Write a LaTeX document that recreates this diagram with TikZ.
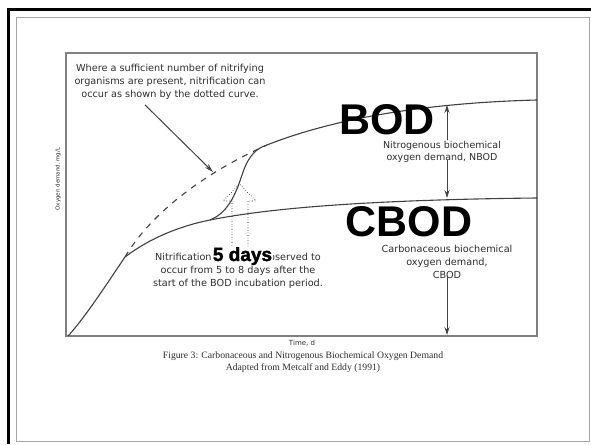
\documentclass[tikz,border=0pt]{standalone}
\usepackage{fontspec}
\setmainfont{DejaVu Sans}
\newfontfamily\capfont{Liberation Serif}
\newfontfamily\bigfont{Liberation Sans}
\newfontfamily\heavyfont[FakeBold=2]{Liberation Sans Bold}
\usetikzlibrary{arrows.meta,positioning}
\definecolor{plotGray}{RGB}{64,64,64}
\definecolor{boxGray}{RGB}{128,128,128}
\definecolor{txtGray}{RGB}{45,45,45}
\tikzset{
    curve/.style      = {draw=plotGray, line width=1.1pt},
    nitDash/.style    = {curve, dash pattern=on 6pt off 6pt},
    pointer/.style    = {-{Stealth[length=9pt,width=5pt]}, draw=plotGray, line width=1pt},
    demand/.style     = {-{Stealth[length=8pt,width=5pt]}, draw=plotGray, line width=0.8pt},
    note/.style       = {text=txtGray, align=center, inner sep=1pt,
            font=\fontsize{9.7}{13}\selectfont},
    bigLbl/.style     = {inner sep=0pt, font=\bigfont\bfseries\fontsize{43}{43}\selectfont},
    blockArrow/.style = {draw=black, dotted, line width=0.6pt},
}
\begin{document}
\begin{tikzpicture}[x=1pt,y=-1pt]
    \useasboundingbox (0,0) rectangle (591,444);
    % page frame
    \draw[black, line width=3pt] (8,444) -- (8,10) -- (591,10);
    \draw[gray!70, line width=0.8pt] (16,17) rectangle (589,441);
    % plot box
    \draw[boxGray, line width=1.3pt] (66,53) rectangle (537,336);

    % points on the curves
    \coordinate (orig)   at (68,336);
    \coordinate (kink)   at (125,257);
    \coordinate (nitSt)  at (210,220);
    \coordinate (merge)  at (267,145);
    \coordinate (dashPt) at (213,172);
    \coordinate (bodPt)  at (447,105);
    \coordinate (cbodPt) at (447,198);
    \coordinate (axisPt) at (447,335);

    % CBOD curve
    \draw[curve] (orig) .. controls (85,318) and (112,276) .. (kink)
        .. controls (150,238) and (180,226) .. (nitSt)
        .. controls (260,210) and (350,200) .. (537,198);
    % dotted (dashed) nitrification curve
    \draw[nitDash] (kink) .. controls (150,215) and (200,175) .. (merge);
    % nitrification and BOD curve
    \draw[curve] (nitSt) .. controls (230,212) and (237,190) .. (243,172)
        .. controls (249,155) and (257,148) .. (merge)
        .. controls (330,120) and (420,103) .. (537,100);

    % hollow arrow
    \draw[blockArrow] (232,248) -- (232,201) -- (223,201) -- (239.5,184)
        -- (256,201) -- (248,201) -- (248,248);

    % axis labels
    \node[text=txtGray, rotate=90, font=\fontsize{5.5}{6}\selectfont] (yLbl) at (58,179) {Oxygen demand, mg/L};
    \node[text=txtGray, font=\fontsize{7}{8}\selectfont] (xLbl) at (302,343) {Time, d};

    % notes
    \node[note] (noteDot) at (170,82) {Where a sufficient number of nitrifying\\
        organisms are present, nitrification can\\occur as shown by the dotted curve.};
    \node[note] (noteNit) at (238,271) {Nitrification is usually observed to\\
        occur from 5 to 8 days after the\\start of the BOD incubation period.};
    \node[note, font=\fontsize{9.5}{12}\selectfont] (nbodLbl) at (442,152) {Nitrogenous biochemical\\oxygen demand, NBOD};
    \node[note] (cbodLbl) at (447,262) {Carbonaceous biochemical\\oxygen demand,\\CBOD};

    \draw[pointer] ([xshift=-25pt,yshift=-4pt]noteDot.south) -- (dashPt);
    \draw[demand] (nbodLbl.north -| bodPt) -- (bodPt);
    \draw[demand] ([yshift=4pt]nbodLbl.south -| cbodPt) -- (cbodPt);
    \draw[demand] ([yshift=4pt]cbodLbl.south -| axisPt) -- (axisPt);

    % big labels
    \node[bigLbl] (bod)  at (387,120) {BOD};
    \node[bigLbl] (cbod) at (409,222) {CBOD};
    \node[fill=white, inner sep=0.5pt, anchor=base, font=\heavyfont\fontsize{19}{19}\selectfont]
        (days) at (242.5,261) {5 days};

    % caption
    \node[text=txtGray, align=center, font=\capfont\fontsize{9.7}{12}\selectfont] (caption) at (303,362)
        {Figure 3: Carbonaceous and Nitrogenous Biochemical Oxygen Demand\\
        Adapted from Metcalf and Eddy (1991)};
\end{tikzpicture}
\end{document}
